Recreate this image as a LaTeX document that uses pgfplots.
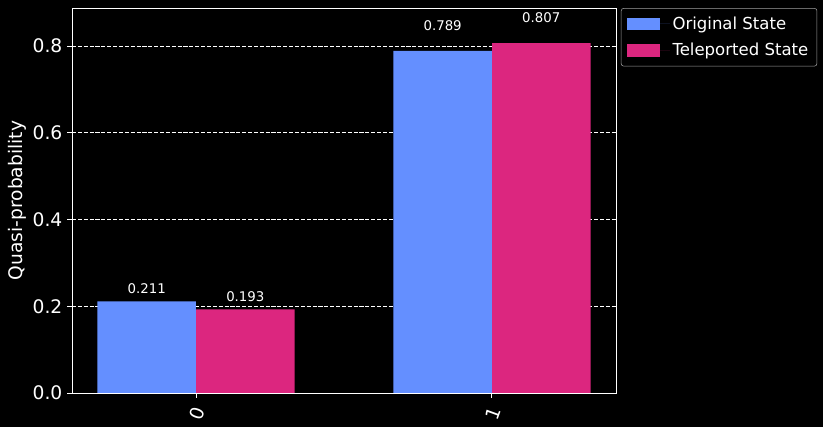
\documentclass[border=0pt]{standalone}
\usepackage{fontspec}
\setmainfont{DejaVu Sans}
\usepackage{pgfplots}
\pgfplotsset{compat=1.18}
\definecolor{qblue}{HTML}{648FFF}
\definecolor{qpink}{HTML}{DC267F}
\definecolor{legframe}{HTML}{A0A0A0}

\begin{document}
\begin{tikzpicture}
  % black figure background, 823x427 px at 0.75pt per px
  \fill[black] (-54pt,-25.5pt) rectangle (563.25pt,294.75pt);
  \begin{axis}[
      at={(0pt,0pt)}, anchor=south west,
      scale only axis, width=408pt, height=288.75pt,
      xmin=-0.419, xmax=1.419, ymin=0, ymax=0.8877,
      xtick={0,1}, xticklabels={0,1},
      ytick={0,0.2,0.4,0.6,0.8},
      /pgf/number format/fixed,
      /pgf/number format/precision=1,
      /pgf/number format/fixed zerofill,
      /pgf/number format/assume math mode=true,
      tick pos=left, tick align=outside,
      major tick length=3.7pt,
      tick style={white, line width=0.75pt},
      axis line style={white, line width=0.75pt},
      ticklabel style={text=white, font=\fontsize{14}{16}\selectfont},
      xticklabel style={xshift=0.75pt, yshift=-12pt, rotate=70, anchor=center},
      ymajorgrids,
      grid style={white, dash pattern=on 3.1pt off 1.3pt, line width=0.6pt},
      ylabel={Quasi-probability},
      ylabel style={at={(axis description cs:-0.101,0.5)}, anchor=center,
                    text=white, font=\fontsize{14}{16}\selectfont},
      legend style={at={(1.009,1)}, anchor=north west,
                    fill=black, draw=legframe, rounded corners=2pt,
                    text=white, font=\fontsize{12.4}{14}\selectfont,
                    inner xsep=4.5pt, inner ysep=4.2pt, row sep=5.2pt},
      legend cell align=left,
      legend image code/.code={
        \fill[#1, sharp corners] (0pt,-4.7pt) rectangle (24.75pt,4.7pt);
        \path (0pt,0pt) -- (32pt,0pt);},
    ]
    \addplot[ybar, bar width=0.3333, bar shift=0pt, fill=qblue, draw=none]
      coordinates {(-0.1667,0.211) (0.8333,0.789)};
    \addlegendentry{Original State}
    \addplot[ybar, bar width=0.3333, bar shift=0pt, fill=qpink, draw=none]
      coordinates {(0.1667,0.193) (1.1667,0.807)};
    \addlegendentry{Teleported State}

    % value labels at 1.05 x height
    \begin{scope}[every node/.style={anchor=base, text=white, yshift=2.4pt,
                  font=\fontsize{10}{12}\selectfont}]
      \node at (axis cs:-0.1667,0.22155) {0.211};
      \node at (axis cs:0.8333,0.82845) {0.789};
      \node at (axis cs:0.1667,0.20265) {0.193};
      \node at (axis cs:1.1667,0.84735) {0.807};
    \end{scope}

    % spines on top of the bars
    \draw[white, line width=0.75pt] (rel axis cs:0,0) rectangle (rel axis cs:1,1);
  \end{axis}
\end{tikzpicture}
\end{document}
